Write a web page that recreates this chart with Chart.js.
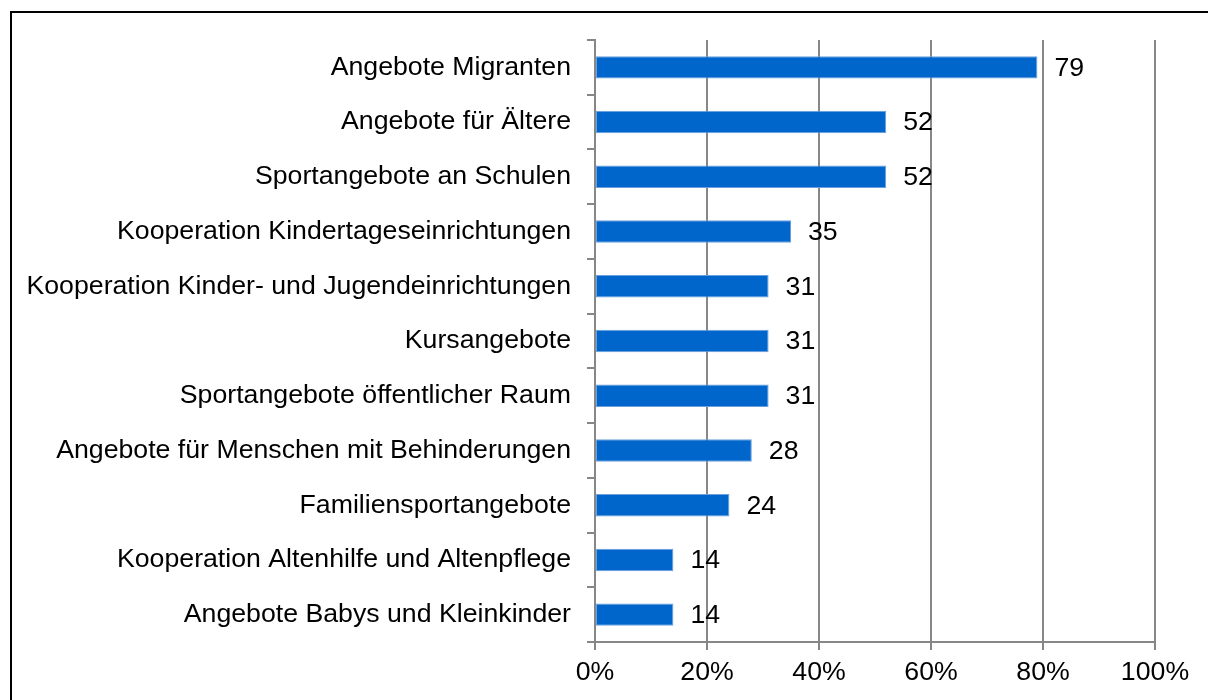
<!DOCTYPE html>
<html>
<head>
<meta charset="utf-8">
<script src="https://cdn.jsdelivr.net/npm/chart.js@4/dist/chart.umd.min.js"></script>
<style>
  html, body { margin: 0; padding: 0; background: #fff; }
  #wrap { width: 1208px; height: 700px; position: relative; }
</style>
</head>
<body>
<div id="wrap"><canvas id="chart" width="1208" height="700"></canvas></div>
<script>
// --- Data ---
const categories = [
  "Angebote Migranten",
  "Angebote für Ältere",
  "Sportangebote an Schulen",
  "Kooperation Kindertageseinrichtungen",
  "Kooperation Kinder- und Jugendeinrichtungen",
  "Kursangebote",
  "Sportangebote öffentlicher Raum",
  "Angebote für Menschen mit Behinderungen",
  "Familiensportangebote",
  "Kooperation Altenhilfe und Altenpflege",
  "Angebote Babys und Kleinkinder"
];
const values = [79, 52, 52, 35, 31, 31, 31, 28, 24, 14, 14];
const xTicks = [0, 20, 40, 60, 80, 100];

const FONT = "'Liberation Sans', Arial, sans-serif";
const FSIZE = 26.7;
const GRID = "#878787";

// frame round the whole picture
const framePlugin = {
  id: "frame",
  beforeDraw(chart) {
    const ctx = chart.ctx;
    ctx.save();
    ctx.fillStyle = "#fff";
    ctx.fillRect(0, 0, chart.width, chart.height);
    ctx.strokeStyle = "#000";
    ctx.lineWidth = 2;
    ctx.strokeRect(11, 12, 1300, 800);
    ctx.restore();
  }
};

// value labels right of each bar
const valueLabels = {
  id: "valueLabels",
  afterDatasetsDraw(chart) {
    const ctx = chart.ctx;
    const meta = chart.getDatasetMeta(0);
    ctx.save();
    ctx.font = FSIZE + "px " + FONT;
    ctx.fillStyle = "#000";
    ctx.textAlign = "left";
    ctx.textBaseline = "middle";
    meta.data.forEach((bar, i) => {
      ctx.fillText(String(values[i]), bar.x + 17, bar.y + 1);
    });
    ctx.restore();
  }
};

new Chart(document.getElementById("chart"), {
  type: "bar",
  data: {
    labels: categories,
    datasets: [{
      data: values,
      backgroundColor: "#0066cc",
      borderColor: "#6a9fdc",
      borderWidth: 1,
      borderSkipped: false,
      barPercentage: 0.41,
      categoryPercentage: 1
    }]
  },
  options: {
    indexAxis: "y",
    responsive: false,
    animation: false,
    layout: { padding: { top: 40, right: 53, left: 0, bottom: 0 } },
    plugins: {
      legend: { display: false },
      tooltip: { enabled: false }
    },
    scales: {
      x: {
        min: 0,
        max: 100,
        afterBuildTicks(scale) {
          scale.ticks = xTicks.map(v => ({ value: v }));
        },
        afterFit(scale) { scale.height = 58; },
        grid: { color: GRID, lineWidth: 2, tickLength: 8, drawTicks: true },
        border: { display: true, color: GRID, width: 2 },
        ticks: {
          color: "#000",
          font: { family: FONT, size: FSIZE },
          padding: 7,
          callback: v => v + "%"
        }
      },
      y: {
        afterFit(scale) { scale.width = 595; },
        grid: { color: GRID, lineWidth: 2, tickLength: 8, drawOnChartArea: false, offset: true },
        border: { display: true, color: GRID, width: 2 },
        ticks: {
          color: "#000",
          font: { family: FONT, size: FSIZE },
          padding: 16,
          autoSkip: false
        }
      }
    }
  },
  plugins: [framePlugin, valueLabels]
});
</script>
</body>
</html>
